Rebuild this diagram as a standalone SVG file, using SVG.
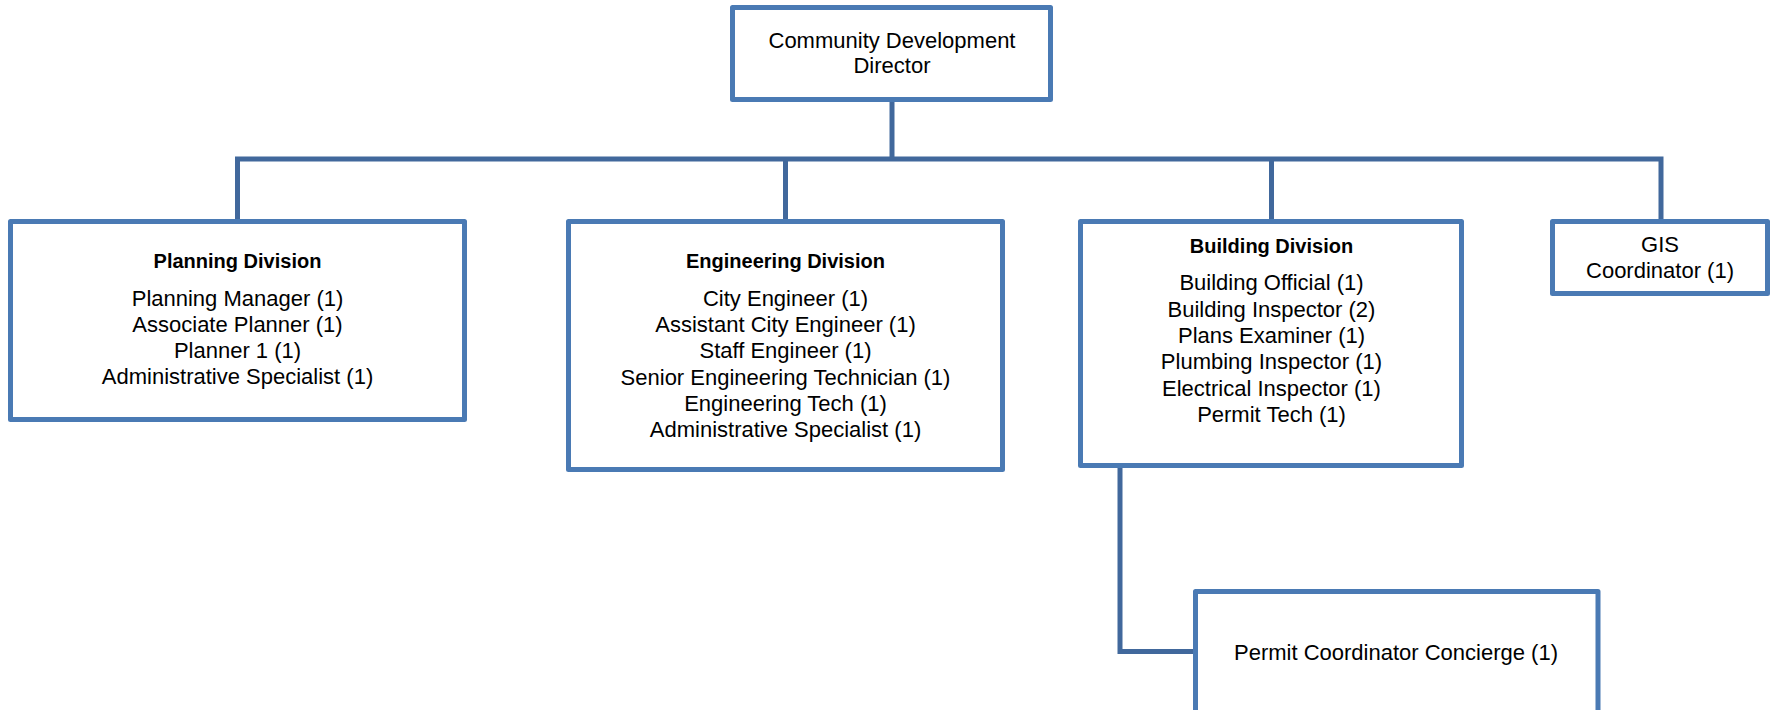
<svg xmlns="http://www.w3.org/2000/svg" width="1775" height="710" viewBox="0 0 1775 710">
<style>
.box{fill:#ffffff;stroke:#4a7ab4;stroke-width:5;stroke-linejoin:round}
.con{fill:none;stroke:#41689c;stroke-width:5;stroke-linejoin:miter}
text{font-family:"Liberation Sans",Arial,sans-serif;font-size:22px;fill:#000;text-anchor:middle}
.t{font-weight:bold;font-size:20px}
</style>
<rect width="1775" height="710" fill="#ffffff"/>
<g id="connectors">
<path class="con" d="M892,102 V159"/>
<path class="con" d="M237.5,219 V159 H1661 V219"/>
<path class="con" d="M785.5,159 V219"/>
<path class="con" d="M1271.5,159 V219"/>
<path class="con" d="M1120,468 V651.5 H1195"/>
</g>
<g id="director">
<rect class="box" x="732.5" y="7.5" width="318" height="92"/>
<text x="892" y="48">Community Development</text>
<text x="892" y="73">Director</text>
</g>
<g id="planning">
<rect class="box" x="10.5" y="221.5" width="454" height="198"/>
<text class="t" x="237.5" y="268">Planning Division</text>
<text x="237.5" y="306">Planning Manager (1)</text>
<text x="237.5" y="332">Associate Planner (1)</text>
<text x="237.5" y="358">Planner 1 (1)</text>
<text x="237.5" y="384">Administrative Specialist (1)</text>
</g>
<g id="engineering">
<rect class="box" x="568.5" y="221.5" width="434" height="248"/>
<text class="t" x="785.5" y="268">Engineering Division</text>
<text x="785.5" y="306">City Engineer (1)</text>
<text x="785.5" y="332">Assistant City Engineer (1)</text>
<text x="785.5" y="358">Staff Engineer (1)</text>
<text x="785.5" y="385">Senior Engineering Technician (1)</text>
<text x="785.5" y="411">Engineering Tech (1)</text>
<text x="785.5" y="437">Administrative Specialist (1)</text>
</g>
<g id="building">
<rect class="box" x="1080.5" y="221.5" width="381" height="244"/>
<text class="t" x="1271.5" y="253">Building Division</text>
<text x="1271.5" y="290">Building Official (1)</text>
<text x="1271.5" y="317">Building Inspector (2)</text>
<text x="1271.5" y="343">Plans Examiner (1)</text>
<text x="1271.5" y="369">Plumbing Inspector (1)</text>
<text x="1271.5" y="396">Electrical Inspector (1)</text>
<text x="1271.5" y="422">Permit Tech (1)</text>
</g>
<g id="gis">
<rect class="box" x="1552.5" y="221.5" width="215" height="72"/>
<text x="1660" y="252">GIS</text>
<text x="1660" y="278">Coordinator (1)</text>
</g>
<g id="permit">
<rect class="box" x="1195.5" y="591.5" width="402.5" height="140"/>
<text x="1396" y="660">Permit Coordinator Concierge (1)</text>
</g>
</svg>
